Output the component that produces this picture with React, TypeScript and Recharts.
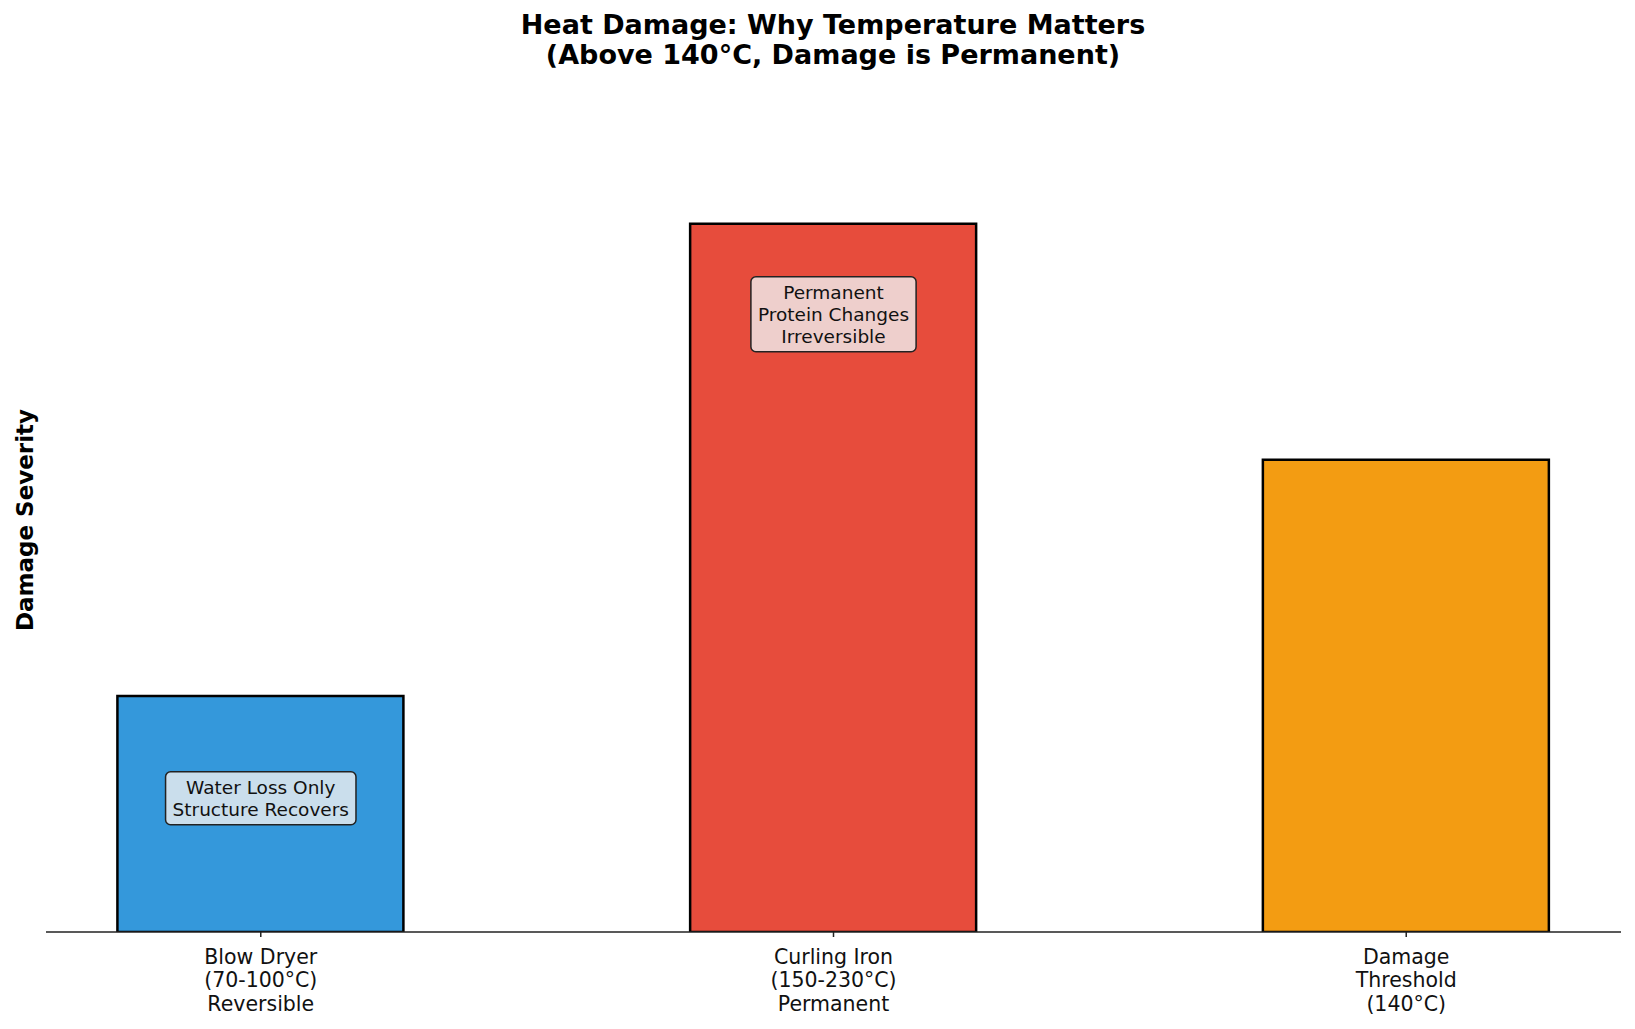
import React from 'react';
import { BarChart, Bar, XAxis, YAxis, Cell, ReferenceDot } from 'recharts';

// bar categories (multi-line tick labels) and their severity scores
const categories = [
  'Blow Dryer\n(70-100°C)\nReversible',
  'Curling Iron\n(150-230°C)\nPermanent',
  'Damage\nThreshold\n(140°C)',
];
const positions = [0, 1, 2];
const severity = [3, 9, 6];
const barColors = ['#3498db', '#e74c3c', '#f39c12'];

// callout boxes drawn inside the bars
const noteBars = [0, 1];
const noteLevels = [1.7, 7.85];
const noteTexts = [
  'Water Loss Only\nStructure Recovers',
  'Permanent\nProtein Changes\nIrreversible',
];

const data = positions.map((pos, i) => ({ pos, severity: severity[i] }));

const FONT = '"DejaVu Sans", Verdana, sans-serif';
const W = 1635;
const H = 1029;

let measureCtx: CanvasRenderingContext2D | null = null;
function textWidth(s: string, size: number) {
  if (!measureCtx) measureCtx = document.createElement('canvas').getContext('2d');
  if (!measureCtx) return s.length * size * 0.55;
  measureCtx.font = `${size}px "DejaVu Sans"`;
  return measureCtx.measureText(s).width;
}

function NoteBox(props: any) {
  const { cx, cy, text } = props;
  const lines: string[] = text.split('\n');
  const fs = 18.5;
  const lh = 22;
  const w = Math.max(...lines.map((l) => textWidth(l, fs))) + 14;
  const h = lines.length * lh + 9;
  return (
    <g>
      <rect
        x={cx - w / 2} y={cy - h / 2} width={w} height={h} rx={5} ry={5}
        fill="#f0f0f0" fillOpacity={0.8} stroke="#222" strokeWidth={1.5}
      />
      <text textAnchor="middle" fontSize={fs} fontFamily={FONT} fill="#111">
        {lines.map((l, i) => (
          <tspan key={i} x={cx} y={cy + (i - (lines.length - 1) / 2) * lh + fs * 0.36}>
            {l}
          </tspan>
        ))}
      </text>
    </g>
  );
}

function CategoryTick(props: any) {
  const { x, y, payload } = props;
  const lines = categories[payload.value].split('\n');
  return (
    <text textAnchor="middle" fontSize={20.5} fontFamily={FONT} fill="#111">
      {lines.map((l, i) => (
        <tspan key={i} x={x} y={y + 27 + i * 23.3}>{l}</tspan>
      ))}
    </text>
  );
}

export default function App() {
  return (
    <div style={{ position: 'absolute', left: 0, top: 0, width: W, height: H, background: '#fff', fontFamily: FONT }}>
      <div style={{
        position: 'absolute', left: 833 - 500, width: 1000, top: 10,
        textAlign: 'center', fontSize: 27, fontWeight: 700, lineHeight: '30px', color: '#000',
      }}>
        Heat Damage: Why Temperature Matters<br />(Above 140°C, Damage is Permanent)
      </div>
      <div style={{
        position: 'absolute', left: 25, top: 520, transform: 'translate(-50%, -50%) rotate(-90deg)',
        whiteSpace: 'nowrap', fontSize: 23, fontWeight: 700, color: '#000',
      }}>
        Damage Severity
      </div>
      <BarChart width={W} height={H} data={data} margin={{ top: 108, right: 14, left: 46, bottom: 0 }}>
        <XAxis
          dataKey="pos" type="number" domain={[-0.375, 2.375]} ticks={positions}
          allowDataOverflow interval={0}
          axisLine={{ stroke: '#222', strokeWidth: 1.5 }}
          tickLine={{ stroke: '#222', strokeWidth: 1.5 }}
          tickSize={5} tickMargin={0}
          tick={<CategoryTick />}
          height={97}
        />
        <YAxis hide domain={[0, 10.47]} allowDataOverflow />
        <Bar dataKey="severity" barSize={286} stroke="#000" strokeWidth={2.5} isAnimationActive={false}>
          {data.map((_, i) => (
            <Cell key={i} fill={barColors[i]} />
          ))}
        </Bar>
        {noteBars.map((b, i) => (
          <ReferenceDot
            key={i} x={positions[b]} y={noteLevels[i]} r={0}
            shape={(p: any) => <NoteBox cx={p.cx} cy={p.cy} text={noteTexts[i]} />}
          />
        ))}
      </BarChart>
    </div>
  );
}
